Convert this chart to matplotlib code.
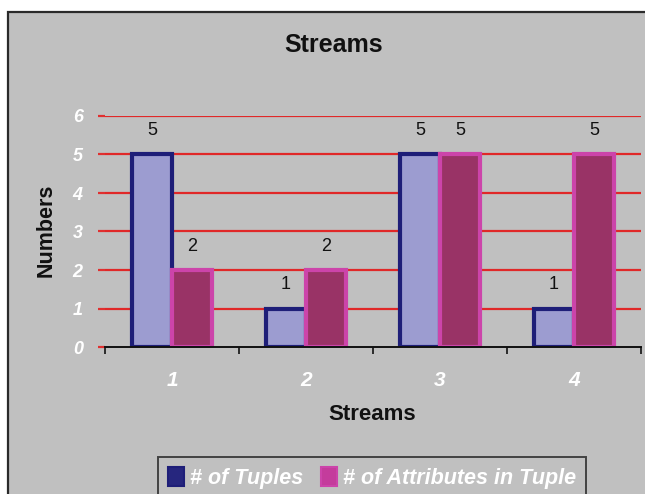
import matplotlib
matplotlib.use("Agg")
import matplotlib.pyplot as plt
from matplotlib.patches import Rectangle, Patch
import numpy as np

plt.rcParams['font.family'] = ['Liberation Sans', 'DejaVu Sans']

streams = ["1", "2", "3", "4"]
tuples = [5, 1, 5, 1]
attributes = [2, 2, 5, 5]
series_names = ["# of Tuples", "# of Attributes in Tuple"]
y_ticks = [0, 1, 2, 3, 4, 5, 6]

W, H = 645, 494
fig = plt.figure(figsize=(W / 100, H / 100), dpi=100, facecolor="white")

# chart area frame, drawn beneath the axes
fig.patches.append(Rectangle((8 / W, -0.05), 1.2, 1 - 12 / H + 0.05,
                             transform=fig.transFigure, facecolor="#c0c0c0",
                             edgecolor="#2a2a2a", linewidth=1.6, zorder=-5))

ax = fig.add_axes([105 / W, 1 - 347 / H, (641 - 105) / W, (347 - 116) / H])
ax.set_facecolor("#c0c0c0")

x = np.arange(1, len(streams) + 1)
bw = 0.298
b1 = ax.bar(x - bw / 2, tuples, width=bw, facecolor="#9c9cd0",
            edgecolor="#1e1e78", linewidth=3, zorder=3)
b2 = ax.bar(x + bw / 2, attributes, width=bw, facecolor="#993366",
            edgecolor="#cc44aa", linewidth=3, zorder=3)

for bars, vals in ((b1, tuples), (b2, attributes)):
    for r, v in zip(bars, vals):
        ax.annotate(str(v), (r.get_x() + r.get_width() / 2, v),
                    xytext=(0, 17), textcoords="offset points",
                    ha="center", va="center", fontsize=13,
                    color="#111111", zorder=4)

ax.set_xlim(0.5, len(streams) + 0.5)
ax.set_ylim(0, 6)
ax.set_yticks(y_ticks)
ax.set_yticklabels([str(t) for t in y_ticks], color="white",
                   fontweight="bold", fontstyle="italic", fontsize=13)
ax.set_xticks(x)
ax.set_xticklabels(streams, color="white", fontweight="bold",
                   fontstyle="italic", fontsize=15)
ax.set_xticks(np.arange(0.5, len(streams) + 1, 1), minor=True)
ax.tick_params(axis="x", which="major", length=0, pad=17)
ax.tick_params(axis="x", which="minor", length=5, width=1.2, color="#111111")
ax.tick_params(axis="y", length=5, width=1.6, color="#e03030", pad=11)

for y in y_ticks[1:]:
    ax.axhline(y, color="#e02828", linewidth=1.6, zorder=1)

for s in ("left", "right", "top"):
    ax.spines[s].set_visible(False)
ax.spines["bottom"].set_color("#111111")
ax.spines["bottom"].set_linewidth(1.4)
ax.spines["bottom"].set_zorder(5)

fig.text(334 / W, 1 - 45 / H, "Streams", ha="center", va="center",
         fontsize=18, fontweight="bold", color="#111111")
fig.text(372 / W, 1 - 414 / H, "Streams", ha="center", va="center",
         fontsize=16, fontweight="bold", color="#111111")
fig.text(46 / W, 1 - 230 / H, "Numbers", ha="center", va="center",
         rotation=90, fontsize=15.5, fontweight="bold", color="#111111")

handles = [Patch(facecolor="#26267e", edgecolor="#1e1e78", linewidth=1.5),
           Patch(facecolor="#c43c9c", edgecolor="#cc44aa", linewidth=1.5)]
leg = fig.legend(handles, series_names, loc="upper left",
                 bbox_to_anchor=(158 / W, 1 - 457 / H), ncol=2,
                 frameon=True, fancybox=False, handlelength=0.75,
                 handleheight=1.0, handletextpad=0.3, columnspacing=0.8,
                 borderpad=0.45, borderaxespad=0,
                 prop={"weight": "bold", "style": "italic", "size": 15.5})
leg.get_frame().set_facecolor("#c0c0c0")
leg.get_frame().set_edgecolor("#222222")
leg.get_frame().set_linewidth(1.4)
for t in leg.get_texts():
    t.set_color("white")

fig.savefig("out.png", dpi=100, facecolor=fig.get_facecolor())
